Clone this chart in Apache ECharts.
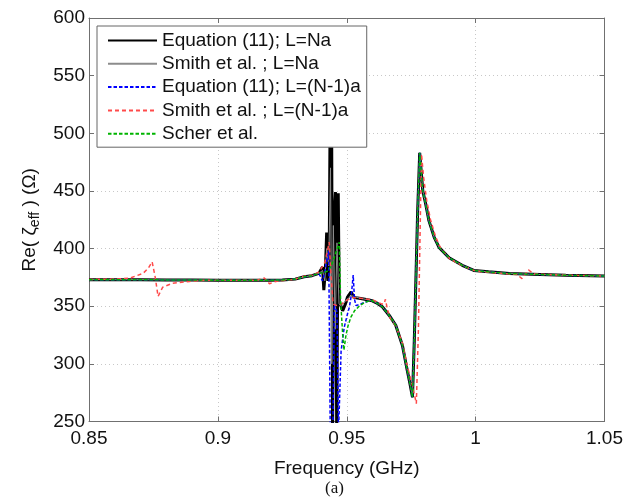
<!DOCTYPE html>
<html>
<head>
<meta charset="utf-8">
<script src="https://cdn.jsdelivr.net/npm/echarts@6/dist/echarts.min.js"></script>
<style>
html,body{margin:0;padding:0;background:#fff;}
#chart{width:626px;height:500px;}
</style>
</head>
<body>
<div id="chart"></div>
<script>
// ---- axis ticks ----
const xTicks = [0.85, 0.9, 0.95, 1.0, 1.05];
const yTicks = [250, 300, 350, 400, 450, 500, 550, 600];

// ---- series names ----
const seriesNames = ['Equation (11); L=Na', 'Smith et al. ; L=Na', 'Equation (11); L=(N-1)a', 'Smith et al. ; L=(N-1)a', 'Scher et al.'];

// ---- shared low-frequency part (black, gray, blue, green overlap) ----
const commonLowFreq = [0.85, 0.86, 0.87, 0.88, 0.89, 0.90, 0.91, 0.915, 0.92, 0.925, 0.93, 0.9335, 0.9365, 0.9392];
const commonLowVal  = [373, 373, 373, 372.8, 372.7, 372.6, 372.5, 372.5, 372.5, 372.8, 373.5, 375.5, 376.5, 378.5];

// ---- shared high-frequency part ----
const commonHighFreq = [0.9595, 0.9615, 0.9638, 0.9665, 0.969, 0.9716, 0.9735, 0.9745, 0.9755, 0.9762, 0.9769, 0.9775, 0.9783, 0.9795, 0.9806, 0.9819, 0.9839, 0.9858, 0.9897, 0.9948, 0.9993, 1.005, 1.013, 1.025, 1.035, 1.05];
const commonHighVal  = [355, 353, 349.5, 342, 333.5, 316, 294, 283, 271, 320, 380, 432, 483, 450, 439, 424, 410, 401, 392, 385.5, 381, 379.8, 378.3, 377.5, 376.8, 376.2];

// ---- Equation (11); L=Na (black) resonance region ----
const blackMidFreq = [0.9406, 0.9411, 0.9417, 0.9422, 0.9427, 0.9432, 0.9437, 0.9441, 0.9445, 0.9451, 0.9456, 0.9461, 0.9467, 0.9471, 0.9484, 0.9495, 0.9503, 0.9517, 0.9527, 0.9536, 0.956];
const blackMidVal  = [384, 364, 381, 414, 372, 395, 570, 540, 240, 430, 449, 240, 448, 354, 346, 352, 358, 362.5, 358, 357.4, 356.5];

// ---- Smith et al.; L=Na (gray) resonance region ----
const grayMidFreq = [0.9406, 0.9415, 0.9422, 0.943, 0.9437, 0.9442, 0.9448, 0.9455, 0.9462, 0.947, 0.948, 0.95, 0.952, 0.955];
const grayMidVal  = [381, 372, 400, 385, 470, 300, 420, 330, 405, 352, 350, 356, 359, 357];

// ---- Equation (11); L=(N-1)a (blue) resonance region ----
const blueMidFreq = [0.9406, 0.9415, 0.9424, 0.943, 0.9436, 0.9446, 0.9452, 0.9462, 0.9468, 0.9474, 0.9478, 0.949, 0.9503, 0.951, 0.9518, 0.9525, 0.953, 0.9536, 0.9555, 0.957];
const blueMidVal  = [372, 380, 392, 398, 240, 240, 352, 345, 240, 240, 311, 331.5, 343.5, 349, 360, 377, 356, 350.5, 352, 353.5];

// ---- Scher et al. (green) resonance region ----
const greenMidFreq = [0.9415, 0.943, 0.9445, 0.946, 0.9471, 0.9476, 0.9484, 0.9489, 0.9497, 0.9505, 0.9516, 0.953, 0.9548, 0.957];
const greenMidVal  = [379.5, 381, 388, 398, 405.5, 356, 326, 312, 325, 333, 340.5, 346, 350, 353.5];

// ---- Smith et al.; L=(N-1)a (red), full curve ----
const redFreq = [0.85, 0.86, 0.866, 0.871, 0.873, 0.8745, 0.8757, 0.8768, 0.8786, 0.8825, 0.889, 0.895, 0.905, 0.915, 0.918, 0.92, 0.9225, 0.926, 0.93, 0.9335, 0.937, 0.9394, 0.9415, 0.9425, 0.9432, 0.9438, 0.9447, 0.9458, 0.948, 0.95, 0.952, 0.955, 0.96, 0.9635, 0.9645, 0.965, 0.9658, 0.9668, 0.969, 0.9716, 0.9735, 0.9755, 0.977, 0.9778, 0.9785, 0.979, 0.9798, 0.981, 0.9825, 0.9845, 0.9865, 0.99, 0.995, 1.0, 1.01, 1.016, 1.018, 1.0205, 1.0225, 1.03, 1.04, 1.05];
const redVal  = [373.2, 373.5, 374.5, 378.5, 383, 388.5, 375, 358.5, 366.5, 370, 371.5, 372.5, 372.5, 372.5, 374.4, 369.5, 371.5, 372.5, 373.5, 376, 377, 380, 388, 398, 405.5, 380, 352, 350.7, 352, 355, 357.5, 357, 355.5, 352, 352, 356, 347, 340, 333, 318, 298, 281, 265.5, 330, 420, 482, 462, 442, 425, 410, 400, 391, 385, 380.5, 378.5, 377.5, 374, 381.5, 378, 377.3, 376.7, 376.2];

function zip(fx, fy) { return fx.map((f, i) => [f, fy[i]]); }
function withCommon(midF, midV) {
  return zip(commonLowFreq, commonLowVal).concat(zip(midF, midV), zip(commonHighFreq, commonHighVal));
}

const FONT = 'Liberation Sans, Arial, sans-serif';
const chart = echarts.init(document.getElementById('chart'), null, {renderer: 'canvas'});

const axisLineStyle = {color: '#707070', width: 1};

const option = {
  animation: false,
  backgroundColor: '#fff',
  grid: {left: 89, top: 18, right: 20, bottom: 78.5, containLabel: false},
  legend: {
    orient: 'vertical',
    left: 97,
    top: 26,
    z: 20,
    zlevel: 0,
    selectedMode: false,
    backgroundColor: '#fff',
    borderColor: '#666',
    borderWidth: 1,
    borderRadius: 0,
    padding: [5, 6, 4, 10],
    itemWidth: 49,
    itemHeight: 14,
    itemGap: 4.3,
    itemStyle: {opacity: 0},
    lineStyle: {opacity: 1},
    textStyle: {fontFamily: FONT, fontSize: 19, color: '#111', lineHeight: 19},
    data: seriesNames
  },
  xAxis: [{
    type: 'value', min: xTicks[0], max: xTicks[xTicks.length - 1], interval: 0.05,
    position: 'bottom',
    name: 'Frequency (GHz)', nameLocation: 'middle', nameGap: 38,
    nameTextStyle: {fontFamily: FONT, fontSize: 19, color: '#111'},
    axisLine: {show: true, onZero: false, lineStyle: axisLineStyle},
    axisTick: {show: true, inside: true, length: 5, lineStyle: axisLineStyle},
    axisLabel: {fontFamily: FONT, fontSize: 19, color: '#111', margin: 8,
      formatter: v => String(+v.toFixed(2))},
    splitLine: {show: true, lineStyle: {color: '#c8c8c8', type: [1, 3], width: 1}}
  }, {
    type: 'value', min: xTicks[0], max: xTicks[xTicks.length - 1], interval: 0.05,
    position: 'top',
    axisLine: {show: true, onZero: false, lineStyle: axisLineStyle},
    axisTick: {show: true, inside: true, length: 5, lineStyle: axisLineStyle},
    axisLabel: {show: false},
    splitLine: {show: false}
  }],
  yAxis: [{
    type: 'value', min: yTicks[0], max: yTicks[yTicks.length - 1], interval: 50,
    position: 'left',
    name: 'Re( ζ{s|eff} ) (Ω)', nameLocation: 'middle', nameGap: 50, nameRotate: 90,
    nameTextStyle: {fontFamily: FONT, fontSize: 19, color: '#111', lineHeight: 26, verticalAlign: 'middle',
      rich: {s: {fontFamily: FONT, fontSize: 14, color: '#111', verticalAlign: 'bottom', lineHeight: 26}}},
    axisLine: {show: true, onZero: false, lineStyle: axisLineStyle},
    axisTick: {show: true, inside: true, length: 5, lineStyle: axisLineStyle},
    axisLabel: {fontFamily: FONT, fontSize: 19, color: '#111', margin: 4},
    splitLine: {show: true, lineStyle: {color: '#c8c8c8', type: [1, 3], width: 1}}
  }, {
    type: 'value', min: yTicks[0], max: yTicks[yTicks.length - 1], interval: 50,
    position: 'right',
    axisLine: {show: true, onZero: false, lineStyle: axisLineStyle},
    axisTick: {show: true, inside: true, length: 5, lineStyle: axisLineStyle},
    axisLabel: {show: false},
    splitLine: {show: false}
  }],
  series: [
    {name: seriesNames[0], type: 'line', symbol: 'none', clip: true, z: 2,
     lineStyle: {color: '#000', width: 3}, itemStyle: {color: '#000'},
     data: withCommon(blackMidFreq, blackMidVal)},
    {name: seriesNames[1], type: 'line', symbol: 'none', clip: true, z: 3,
     lineStyle: {color: '#8c8c8c', width: 1}, itemStyle: {color: '#8c8c8c'},
     data: withCommon(grayMidFreq, grayMidVal)},
    {name: seriesNames[2], type: 'line', symbol: 'none', clip: true, z: 4,
     lineStyle: {color: '#0000ff', width: 1.5, type: [3.5, 2]}, itemStyle: {color: '#0000ff'},
     data: withCommon(blueMidFreq, blueMidVal)},
    {name: seriesNames[3], type: 'line', symbol: 'none', clip: true, z: 5,
     lineStyle: {color: '#ff4a4a', width: 1.5, type: [4, 3]}, itemStyle: {color: '#ff4a4a'},
     data: zip(redFreq, redVal)},
    {name: seriesNames[4], type: 'line', symbol: 'none', clip: true, z: 6,
     lineStyle: {color: '#00b400', width: 1.5, type: [3.5, 2]}, itemStyle: {color: '#00b400'},
     data: withCommon(greenMidFreq, greenMidVal)}
  ],
  graphic: [{
    type: 'text', left: 325, top: 480,
    style: {text: '(a)', fontFamily: 'Liberation Serif, Times New Roman, serif', fontSize: 17, fill: '#111'}
  }]
};
chart.setOption(option);
</script>
</body>
</html>
